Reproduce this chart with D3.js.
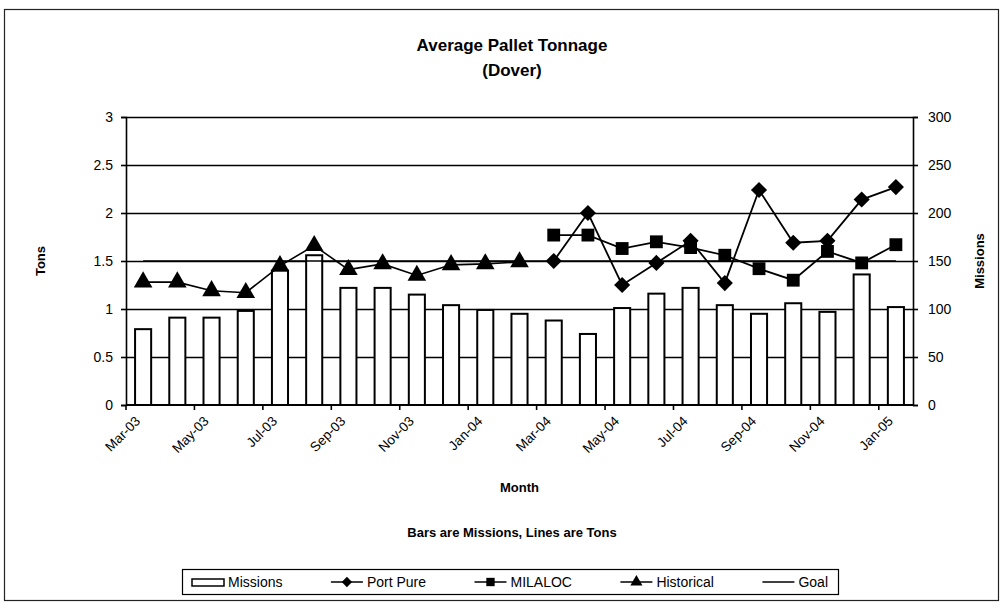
<!DOCTYPE html>
<html><head><meta charset="utf-8">
<script src="https://cdn.jsdelivr.net/npm/d3@7"></script>
<style>body{margin:0;background:#fff} text{font-family:"Liberation Sans",Arial,sans-serif;fill:#000}</style>
</head><body><svg id="c" width="1004" height="608"></svg>
<script>
const months=["Mar-03","Apr-03","May-03","Jun-03","Jul-03","Aug-03","Sep-03","Oct-03","Nov-03","Dec-03","Jan-04","Feb-04","Mar-04","Apr-04","May-04","Jun-04","Jul-04","Aug-04","Sep-04","Oct-04","Nov-04","Dec-04","Jan-05"];
const missions=[79,91,91,98,140,156,122,122,115,104,99,95,88,74,101,116,122,104,95,106,97,136,102];
const historical=[1.28,1.28,1.19,1.17,1.45,1.66,1.41,1.47,1.35,1.46,1.47,1.49,null,null,null,null,null,null,null,null,null,null,null];
const portPure=[null,null,null,null,null,null,null,null,null,null,null,null,1.5,2.0,1.25,1.48,1.71,1.27,2.24,1.69,1.71,2.14,2.27];
const milaloc=[null,null,null,null,null,null,null,null,null,null,null,null,1.77,1.77,1.63,1.70,1.64,1.56,1.42,1.30,1.60,1.48,1.67];
const goal=months.map(()=>1.5);
const tonTicks=[0,0.5,1,1.5,2,2.5,3];
const missionTicks=[0,50,100,150,200,250,300];
const xTickLabels=months.filter((m,i)=>i%2===0);

const svg=d3.select("#c");
const P={l:126,r:913,t:117,b:405};
const x=d3.scaleBand().domain(months).range([P.l,P.r]).paddingInner(0.53).paddingOuter(0.265);
const xc=m=>x(m)+x.bandwidth()/2;
const xb=d3.scaleLinear().domain([0,months.length]).range([P.l,P.r]);
const yL=d3.scaleLinear().domain([0,3]).range([P.b,P.t]);
const yR=d3.scaleLinear().domain([0,300]).range([P.b,P.t]);
const FF="Liberation Sans, Arial, sans-serif";

// border
svg.append("rect").attr("x",4.5).attr("y",9.5).attr("width",994).attr("height",591).attr("fill","none").attr("stroke","#222").attr("stroke-width",1.2);

// titles
svg.append("text").attr("x",512).attr("y",51).attr("text-anchor","middle").attr("font-weight","bold").attr("font-size",17).text("Average Pallet Tonnage");
svg.append("text").attr("x",512).attr("y",76).attr("text-anchor","middle").attr("font-weight","bold").attr("font-size",17).text("(Dover)");

// gridlines
svg.append("g").selectAll("line").data(tonTicks.slice(1)).join("line")
  .attr("x1",P.l).attr("x2",P.r).attr("y1",d=>Math.round(yL(d))+0.5).attr("y2",d=>Math.round(yL(d))+0.5)
  .attr("stroke","#000").attr("stroke-width",1.3);

// bars
svg.append("g").selectAll("rect").data(months).join("rect")
  .attr("x",m=>x(m)).attr("width",x.bandwidth())
  .attr("y",(m,i)=>yR(missions[i])).attr("height",(m,i)=>P.b-yR(missions[i]))
  .attr("fill","#fff").attr("stroke","#000").attr("stroke-width",2);

// left axis
const gl=svg.append("g").attr("transform",`translate(${P.l},0)`)
  .call(d3.axisLeft(yL).tickValues(tonTicks).tickSize(5).tickPadding(8).tickFormat(d=>String(d)));
gl.selectAll("text").attr("font-size",14).style("font-family",FF);
gl.selectAll("path,line").attr("stroke","#000").attr("stroke-width",1.6);
// right axis
const gr=svg.append("g").attr("transform",`translate(${P.r},0)`)
  .call(d3.axisRight(yR).tickValues(missionTicks).tickSize(5).tickPadding(10).tickFormat(d=>String(d)));
gr.selectAll("text").attr("font-size",14).style("font-family",FF);
gr.selectAll("path,line").attr("stroke","#000").attr("stroke-width",1.6);
// bottom axis
svg.append("line").attr("x1",P.l).attr("x2",P.r).attr("y1",P.b).attr("y2",P.b).attr("stroke","#000").attr("stroke-width",2);
svg.append("g").selectAll("line").data(d3.range(0,months.length,2)).join("line")
  .attr("x1",d=>xb(d)).attr("x2",d=>xb(d)).attr("y1",P.b).attr("y2",P.b+5).attr("stroke","#000").attr("stroke-width",1.6);
svg.append("g").selectAll("text").data(xTickLabels).join("text")
  .attr("transform",m=>`translate(${xc(m)-2},${P.b+17}) rotate(-45)`)
  .attr("text-anchor","end").attr("font-size",13.5).text(m=>m);

// axis titles
svg.append("text").attr("transform",`translate(45,${(P.t+P.b)/2}) rotate(-90)`).attr("text-anchor","middle").attr("font-weight","bold").attr("font-size",13).text("Tons");
svg.append("text").attr("transform",`translate(984,${(P.t+P.b)/2}) rotate(-90)`).attr("text-anchor","middle").attr("font-weight","bold").attr("font-size",13).text("Missions");
svg.append("text").attr("x",(P.l+P.r)/2).attr("y",492).attr("text-anchor","middle").attr("font-weight","bold").attr("font-size",13).text("Month");
svg.append("text").attr("x",512).attr("y",537).attr("text-anchor","middle").attr("font-weight","bold").attr("font-size",13).text("Bars are Missions, Lines are Tons");

// markers
const sqPath=d3.symbol(d3.symbolSquare,165)();
const diaPath=d3.symbol(d3.symbolSquare,130)();
const triPath=d3.symbol(d3.symbolTriangle,150)();
const markers={sq:{d:sqPath,rot:0},dia:{d:diaPath,rot:45},tri:{d:triPath,rot:0}};

function series(vals,mk,sw){
  const line=d3.line().defined(d=>d.v!=null).x(d=>xc(d.m)).y(d=>yL(d.v));
  const data=months.map((m,i)=>({m,v:vals[i]}));
  svg.append("path").datum(data).attr("d",line).attr("fill","none").attr("stroke","#000").attr("stroke-width",sw);
  if(mk){
    svg.append("g").selectAll("path").data(data.filter(d=>d.v!=null)).join("path")
      .attr("transform",d=>`translate(${xc(d.m)},${yL(d.v)}) rotate(${mk.rot})`)
      .attr("d",mk.d).attr("fill","#000");
  }
}
series(goal,null,1.6);
series(historical,markers.tri,1.6);
series(milaloc,markers.sq,1.8);
series(portPure,markers.dia,1.8);

// legend
const lg=svg.append("g");
const LB={x:182,y:569,w:656,h:25};
lg.append("rect").attr("x",LB.x+0.5).attr("y",LB.y+0.5).attr("width",LB.w).attr("height",LB.h).attr("fill","#fff").attr("stroke","#000").attr("stroke-width",1.2);
const items=[{n:"Missions",t:"bar"},{n:"Port Pure",mk:markers.dia},{n:"MILALOC",mk:markers.sq},{n:"Historical",mk:markers.tri},{n:"Goal",mk:null}];
const ly=LB.y+13, symW=32, symGap=4, margin=10;
const texts=items.map(it=>lg.append("text").attr("y",ly+5).attr("font-size",14).text(it.n));
const widths=texts.map(t=>t.node().getComputedTextLength());
const total=d3.sum(widths)+items.length*(symW+symGap);
const gap=(LB.w-2*margin-total)/(items.length-1);
let lx=LB.x+margin;
items.forEach((it,i)=>{
  if(it.t==="bar"){
    lg.append("rect").attr("x",lx).attr("y",ly-3).attr("width",symW).attr("height",7).attr("fill","#fff").attr("stroke","#000").attr("stroke-width",1.5);
  } else {
    lg.append("line").attr("x1",lx).attr("x2",lx+symW).attr("y1",ly).attr("y2",ly).attr("stroke","#000").attr("stroke-width",1.5);
    if(it.mk) lg.append("path").attr("transform",`translate(${lx+symW/2},${ly}) rotate(${it.mk.rot}) scale(0.65)`).attr("d",it.mk.d).attr("fill","#000");
  }
  texts[i].attr("x",lx+symW+symGap);
  lx+=symW+symGap+widths[i]+gap;
});
</script></body></html>
